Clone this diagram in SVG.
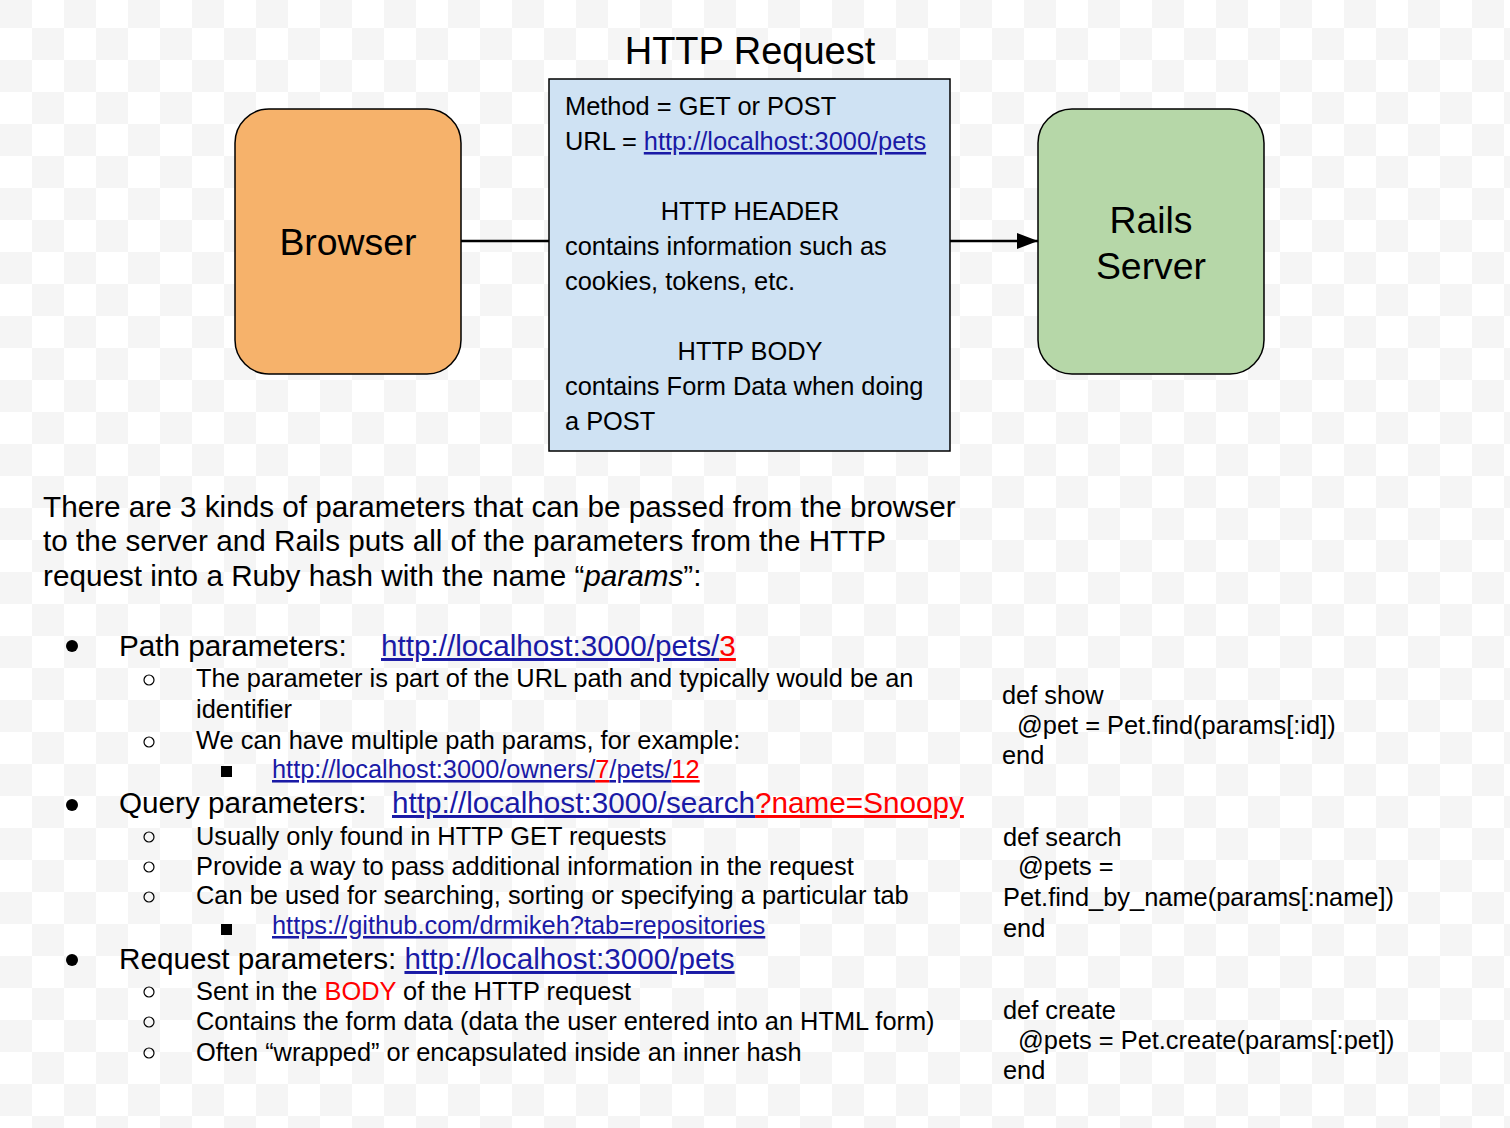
<svg xmlns="http://www.w3.org/2000/svg" width="1510" height="1128" viewBox="0 0 1510 1128">
<defs>
<pattern id="checker" patternUnits="userSpaceOnUse" x="0" y="-4" width="64" height="64">
<rect x="0" y="0" width="64" height="64" fill="#ffffff"/>
<rect x="0" y="0" width="32" height="32" fill="#f5f5f5"/>
<rect x="32" y="32" width="32" height="32" fill="#f5f5f5"/>
</pattern>
<marker id="arrow" viewBox="0 0 10 10" refX="10" refY="5" markerUnits="userSpaceOnUse" markerWidth="21" markerHeight="16" preserveAspectRatio="none" orient="auto">
<path d="M0,0 L10,5 L0,10 Z" fill="#000"/>
</marker>
</defs>
<style>
text { font-family: "Liberation Sans", Arial, sans-serif; fill: #000; }
.big { font-size: 37.4px; }
.box { font-size: 25.4px; }
.body { font-size: 29.7px; }
.sub { font-size: 25.4px; }
.link { fill: #1a1aa6; text-decoration: underline; }
.red { fill: #ff0000; text-decoration: underline; }
.redplain { fill: #ff0000; }
.node { stroke: #000; stroke-width: 1.5; }
.conn { stroke: #000; stroke-width: 2.5; fill: none; }
.dot { fill: #000; }
.ring { fill: none; stroke: #000; stroke-width: 1.2; }
</style>
<rect x="0" y="0" width="1510" height="1128" fill="url(#checker)"/>

<text x="750" y="64" text-anchor="middle" style="font-size:38px">HTTP Request</text>

<g id="connectors">
<line class="conn" x1="461" y1="241" x2="549" y2="241"/>
<line class="conn" x1="950" y1="241" x2="1038" y2="241" marker-end="url(#arrow)"/>
</g>

<g id="browser">
<rect class="node" x="235" y="109" width="226" height="265" rx="34" ry="34" fill="#f6b26b"/>
<text class="big" x="348" y="255" text-anchor="middle">Browser</text>
</g>

<g id="rails-server">
<rect class="node" x="1038" y="109" width="226" height="265" rx="34" ry="34" fill="#b6d7a8"/>
<text class="big" x="1151" y="233" text-anchor="middle">Rails</text>
<text class="big" x="1151" y="279" text-anchor="middle">Server</text>
</g>

<g id="http-request">
<rect class="node" x="549" y="79" width="401" height="372" fill="#cfe2f3"/>
<text class="box" x="565" y="115">Method = GET or POST</text>
<text class="box" x="565" y="150">URL = <tspan class="link">http://localhost:3000/pets</tspan></text>
<text class="box" x="750" y="220" text-anchor="middle">HTTP HEADER</text>
<text class="box" x="565" y="255">contains information such as</text>
<text class="box" x="565" y="290">cookies, tokens, etc.</text>
<text class="box" x="750" y="360" text-anchor="middle">HTTP BODY</text>
<text class="box" x="565" y="395">contains Form Data when doing</text>
<text class="box" x="565" y="430">a POST</text>
</g>

<g id="description">
<text class="body" x="43" y="517">There are 3 kinds of parameters that can be passed from the browser</text>
<text class="body" x="43" y="551">to the server and Rails puts all of the parameters from the HTTP</text>
<text class="body" x="43" y="586">request into a Ruby hash with the name “<tspan font-style="italic">params</tspan>”:</text>
</g>

<g id="path-params">
<circle class="dot" cx="72" cy="646" r="6"/>
<text class="body" x="119" y="656">Path parameters:</text>
<text class="body" x="381" y="656"><tspan class="link">http://localhost:3000/pets/</tspan><tspan class="red">3</tspan></text>
<circle class="ring" cx="149" cy="680" r="5"/>
<text class="sub" x="196" y="687">The parameter is part of the URL path and typically would be an</text>
<text class="sub" x="196" y="718">identifier</text>
<circle class="ring" cx="149" cy="742" r="5"/>
<text class="sub" x="196" y="749">We can have multiple path params, for example:</text>
<rect class="dot" x="221" y="766" width="11" height="11"/>
<text class="sub" x="272" y="778"><tspan class="link">http://localhost:3000/owners/</tspan><tspan class="red">7</tspan><tspan class="link">/pets/</tspan><tspan class="red">12</tspan></text>
</g>

<g id="query-params">
<circle class="dot" cx="72" cy="805" r="6"/>
<text class="body" x="119" y="813">Query parameters:</text>
<text class="body" x="392" y="813"><tspan class="link">http://localhost:3000/search</tspan><tspan class="red">?name=Snoopy</tspan></text>
<circle class="ring" cx="149" cy="837" r="5"/>
<text class="sub" x="196" y="845">Usually only found in HTTP GET requests</text>
<circle class="ring" cx="149" cy="867" r="5"/>
<text class="sub" x="196" y="875">Provide a way to pass additional information in the request</text>
<circle class="ring" cx="149" cy="897" r="5"/>
<text class="sub" x="196" y="904">Can be used for searching, sorting or specifying a particular tab</text>
<rect class="dot" x="221" y="924" width="11" height="11"/>
<text class="sub" x="272" y="934"><tspan class="link">https://github.com/drmikeh?tab=repositories</tspan></text>
</g>

<g id="request-params">
<circle class="dot" cx="72" cy="960" r="6"/>
<text class="body" x="119" y="969">Request parameters: <tspan class="link">http://localhost:3000/pets</tspan></text>
<circle class="ring" cx="149" cy="992" r="5"/>
<text class="sub" x="196" y="1000">Sent in the <tspan class="redplain">BODY</tspan> of the HTTP request</text>
<circle class="ring" cx="149" cy="1022" r="5"/>
<text class="sub" x="196" y="1030">Contains the form data (data the user entered into an HTML form)</text>
<circle class="ring" cx="149" cy="1053" r="5"/>
<text class="sub" x="196" y="1061">Often “wrapped” or encapsulated inside an inner hash</text>
</g>

<g id="code">
<text class="sub" x="1002" y="704">def show</text>
<text class="sub" x="1017" y="734">@pet = Pet.find(params[:id])</text>
<text class="sub" x="1002" y="764">end</text>
<text class="sub" x="1003" y="846">def search</text>
<text class="sub" x="1018" y="875">@pets =</text>
<text class="sub" x="1003" y="906">Pet.find_by_name(params[:name])</text>
<text class="sub" x="1003" y="937">end</text>
<text class="sub" x="1003" y="1019">def create</text>
<text class="sub" x="1018" y="1049">@pets = Pet.create(params[:pet])</text>
<text class="sub" x="1003" y="1079">end</text>
</g>
</svg>
